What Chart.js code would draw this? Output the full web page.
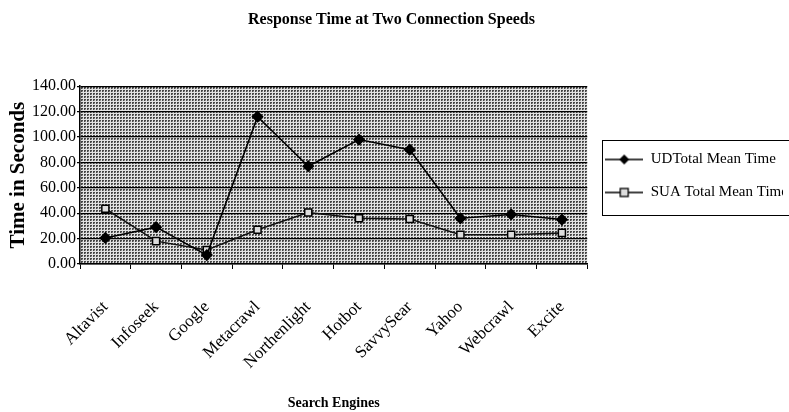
<!DOCTYPE html>
<html>
<head>
<meta charset="utf-8">
<script src="https://cdn.jsdelivr.net/npm/chart.js@4/dist/chart.umd.min.js"></script>
<style>
  html, body { margin: 0; padding: 0; background: #fff; }
  #wrap { width: 789px; height: 412px; }
</style>
</head>
<body>
<div id="wrap"><canvas id="myChart" width="789" height="412"></canvas></div>
<script>
// data
const engines = ["Altavist", "Infoseek", "Google", "Metacrawl", "Northenlight", "Hotbot", "SavvySear", "Yahoo", "Webcrawl", "Excite"];
const udTotal = [20.5, 29, 7, 116, 77, 98, 90, 36, 39, 35];
const suaTotal = [43.5, 18, 11, 27, 40.5, 36, 35.5, 23, 23, 24.5];
const seriesNames = ["UDTotal Mean Time", "SUA Total Mean Time"];
const yTicks = [0, 20, 40, 60, 80, 100, 120, 140];

const SERIF = "'Liberation Serif', 'Times New Roman', serif";

// dotted halftone fill for the plot area
function makePattern(ctx) {
  const c = document.createElement("canvas");
  c.width = 3; c.height = 3;
  const p = c.getContext("2d");
  p.fillStyle = "#e2e2e2";
  p.fillRect(0, 0, 3, 3);
  p.fillStyle = "#454545";
  p.fillRect(0, 0, 2, 1);
  p.fillRect(0, 1, 1, 1);
  p.fillStyle = "#909090";
  p.fillRect(1, 1, 1, 1);
  return ctx.createPattern(c, "repeat");
}

// small line+marker picture for the legend
function legendIcon(kind) {
  const c = document.createElement("canvas");
  c.width = 38; c.height = 14;
  const g = c.getContext("2d");
  g.strokeStyle = "#000";
  g.lineWidth = 1.3;
  g.beginPath(); g.moveTo(0, 7); g.lineTo(38, 7); g.stroke();
  if (kind === "diamond") {
    g.fillStyle = "#000";
    g.beginPath(); g.moveTo(19, 2); g.lineTo(24, 7); g.lineTo(19, 12); g.lineTo(14, 7); g.closePath(); g.fill();
  } else {
    g.fillStyle = "#dddddd";
    g.fillRect(15, 3, 8, 8);
    g.strokeRect(15, 3, 8, 8);
  }
  return c;
}

const plotBackground = {
  id: "plotBackground",
  beforeDraw(chart) {
    const { ctx, chartArea } = chart;
    ctx.save();
    ctx.fillStyle = makePattern(ctx);
    ctx.fillRect(chartArea.left, chartArea.top, chartArea.right - chartArea.left, chartArea.bottom - chartArea.top);
    ctx.restore();
  }
};

const legendFrame = {
  id: "legendFrame",
  afterDraw(chart) {
    const boxes = chart.legend.legendHitBoxes;
    if (!boxes || !boxes.length) return;
    const first = boxes[0], last = boxes[boxes.length - 1];
    const ctx = chart.ctx;
    const top = Math.round(first.top + first.height / 2 - 20);
    const bottom = Math.round(last.top + last.height / 2 + 22);
    const left = Math.round(first.left - 3);
    ctx.save();
    ctx.strokeStyle = "#000";
    ctx.lineWidth = 1;
    ctx.strokeRect(left + 0.5, top + 0.5, 789 - left + 5, bottom - top);
    ctx.restore();
  }
};

const icons = [legendIcon("diamond"), legendIcon("square")];

const ctx = document.getElementById("myChart");

new Chart(ctx, {
  type: "line",
  data: {
    labels: engines,
    datasets: [
      {
        label: seriesNames[0],
        data: udTotal,
        borderColor: "#000",
        borderWidth: 1.6,
        pointStyle: "rectRot",
        pointRadius: 5,
        pointBackgroundColor: "#000",
        pointBorderColor: "#000",
        tension: 0,
      },
      {
        label: seriesNames[1],
        data: suaTotal,
        borderColor: "#111",
        borderWidth: 1.5,
        pointStyle: "rect",
        pointRadius: 5,
        pointBackgroundColor: "#dddddd",
        pointBorderColor: "#000",
        pointBorderWidth: 1.5,
        tension: 0,
      },
    ],
  },
  options: {
    responsive: false,
    animation: false,
    layout: { padding: { left: 0, right: 6, top: 0, bottom: 0 } },
    plugins: {
      title: {
        display: true,
        text: "Response Time at Two Connection Speeds",
        color: "#000",
        font: { family: SERIF, size: 16, weight: "bold" },
        padding: { top: 10, bottom: 57 },
      },
      legend: {
        position: "right",
        align: "start",
        title: { display: true, text: " ", font: { size: 10 }, padding: { top: 61, bottom: 61 } },
        labels: {
          color: "#000",
          font: { family: SERIF, size: 15 },
          usePointStyle: true,
          pointStyleWidth: 38,
          boxHeight: 14,
          padding: 18,
          generateLabels(chart) {
            return chart.data.datasets.map((ds, i) => ({
              text: ds.label,
              pointStyle: icons[i],
              fillStyle: "#000",
              strokeStyle: "#000",
              fontColor: "#000",
              lineWidth: 0,
              hidden: false,
              datasetIndex: i,
            }));
          },
        },
      },
      tooltip: { enabled: false },
    },
    scales: {
      x: {
        offset: true,
        afterFit(scale) {
          scale.height = 148;
        },
        border: { color: "#000", width: 1.5 },
        grid: { display: true, drawOnChartArea: false, drawTicks: true, tickLength: 5, color: "#000", offset: true },
        ticks: {
          color: "#000",
          font: { family: SERIF, size: 17 },
          minRotation: 45,
          maxRotation: 45,
          padding: 28,
          autoSkip: false,
        },
        title: {
          display: true,
          text: "Search Engines",
          color: "#000",
          font: { family: SERIF, size: 14, weight: "bold" },
          padding: { top: 4, bottom: 0 },
        },
      },
      y: {
        min: 0,
        max: 140,
        afterBuildTicks(scale) {
          scale.ticks = yTicks.map(v => ({ value: v }));
        },
        afterFit(scale) {
          scale.width = 80;
        },
        border: { color: "#000", width: 1.5 },
        grid: { color: "#000", lineWidth: 1.2, tickLength: 3 },
        ticks: {
          color: "#000",
          font: { family: SERIF, size: 16 },
          padding: 1,
          callback: v => Number(v).toFixed(2),
        },
        title: {
          display: true,
          text: "Time in Seconds",
          color: "#000",
          font: { family: SERIF, size: 21, weight: "bold" },
          padding: { top: 6, bottom: 2 },
        },
      },
    },
  },
  plugins: [plotBackground, legendFrame],
});
</script>
</body>
</html>
